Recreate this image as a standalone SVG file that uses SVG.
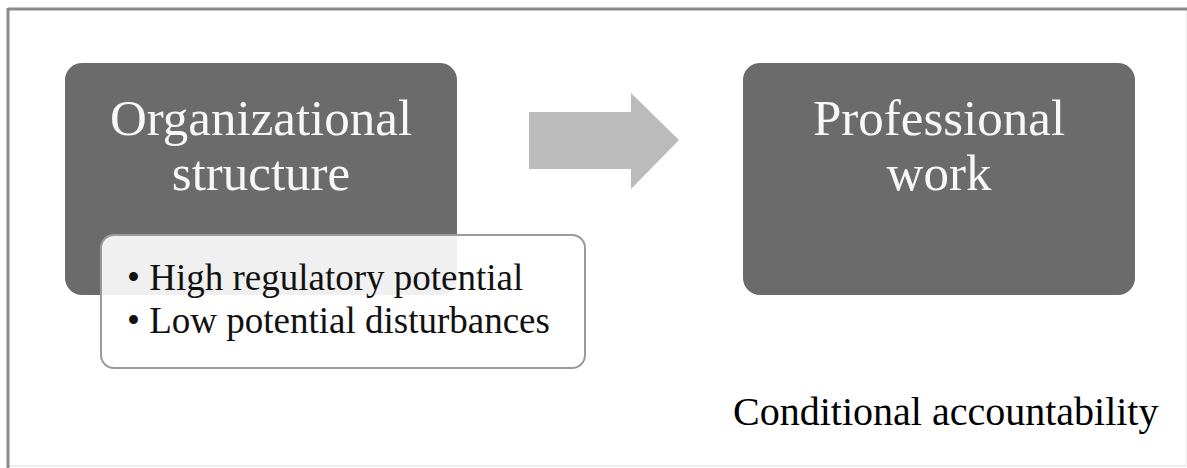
<svg xmlns="http://www.w3.org/2000/svg" width="1187" height="468" viewBox="0 0 1187 468">
<style>
.box{fill:#6b6b6b}
.big{font-family:"Liberation Serif","Times New Roman",serif;font-size:51px;fill:#f7f7f7;text-anchor:middle}
.list{font-family:"Liberation Serif","Times New Roman",serif;font-size:37px;fill:#111}
.cap{font-family:"Liberation Serif","Times New Roman",serif;font-size:40px;fill:#000}
</style>
<rect x="0" y="0" width="1187" height="468" fill="#ffffff"/>
<g id="frame">
<line x1="1186" y1="9" x2="1186" y2="466" stroke="#e6e6e6" stroke-width="1"/>
<line x1="8" y1="466" x2="1186" y2="466" stroke="#e6e6e6" stroke-width="1.5"/>
<line x1="8" y1="9" x2="1187" y2="9" stroke="#8a8a8a" stroke-width="3"/>
<line x1="8" y1="8" x2="8" y2="468" stroke="#8a8a8a" stroke-width="3"/>
</g>
<g id="org">
<rect class="box" x="65" y="63" width="392" height="232" rx="17"/>
<text class="big" x="261" y="135">Organizational</text>
<text class="big" x="261" y="190">structure</text>
</g>
<g id="connectors">
<polygon points="529,112 631,112 631,93 679,140 631,189 631,169 529,169" fill="#bbbbbb"/>
</g>
<g id="prof">
<rect class="box" x="743" y="63" width="392" height="232" rx="17"/>
<text class="big" x="939" y="135">Professional</text>
<text class="big" x="939" y="190">work</text>
</g>
<g id="props">
<rect x="101" y="235" width="484" height="133" rx="13" fill="#ffffff" fill-opacity="0.9" stroke="#9a9a9a" stroke-width="2"/>
<text class="list" x="127" y="290">• High regulatory potential</text>
<text class="list" x="127" y="333">• Low potential disturbances</text>
</g>
<g id="caption">
<text class="cap" x="733" y="425">Conditional accountability</text>
</g>
</svg>
